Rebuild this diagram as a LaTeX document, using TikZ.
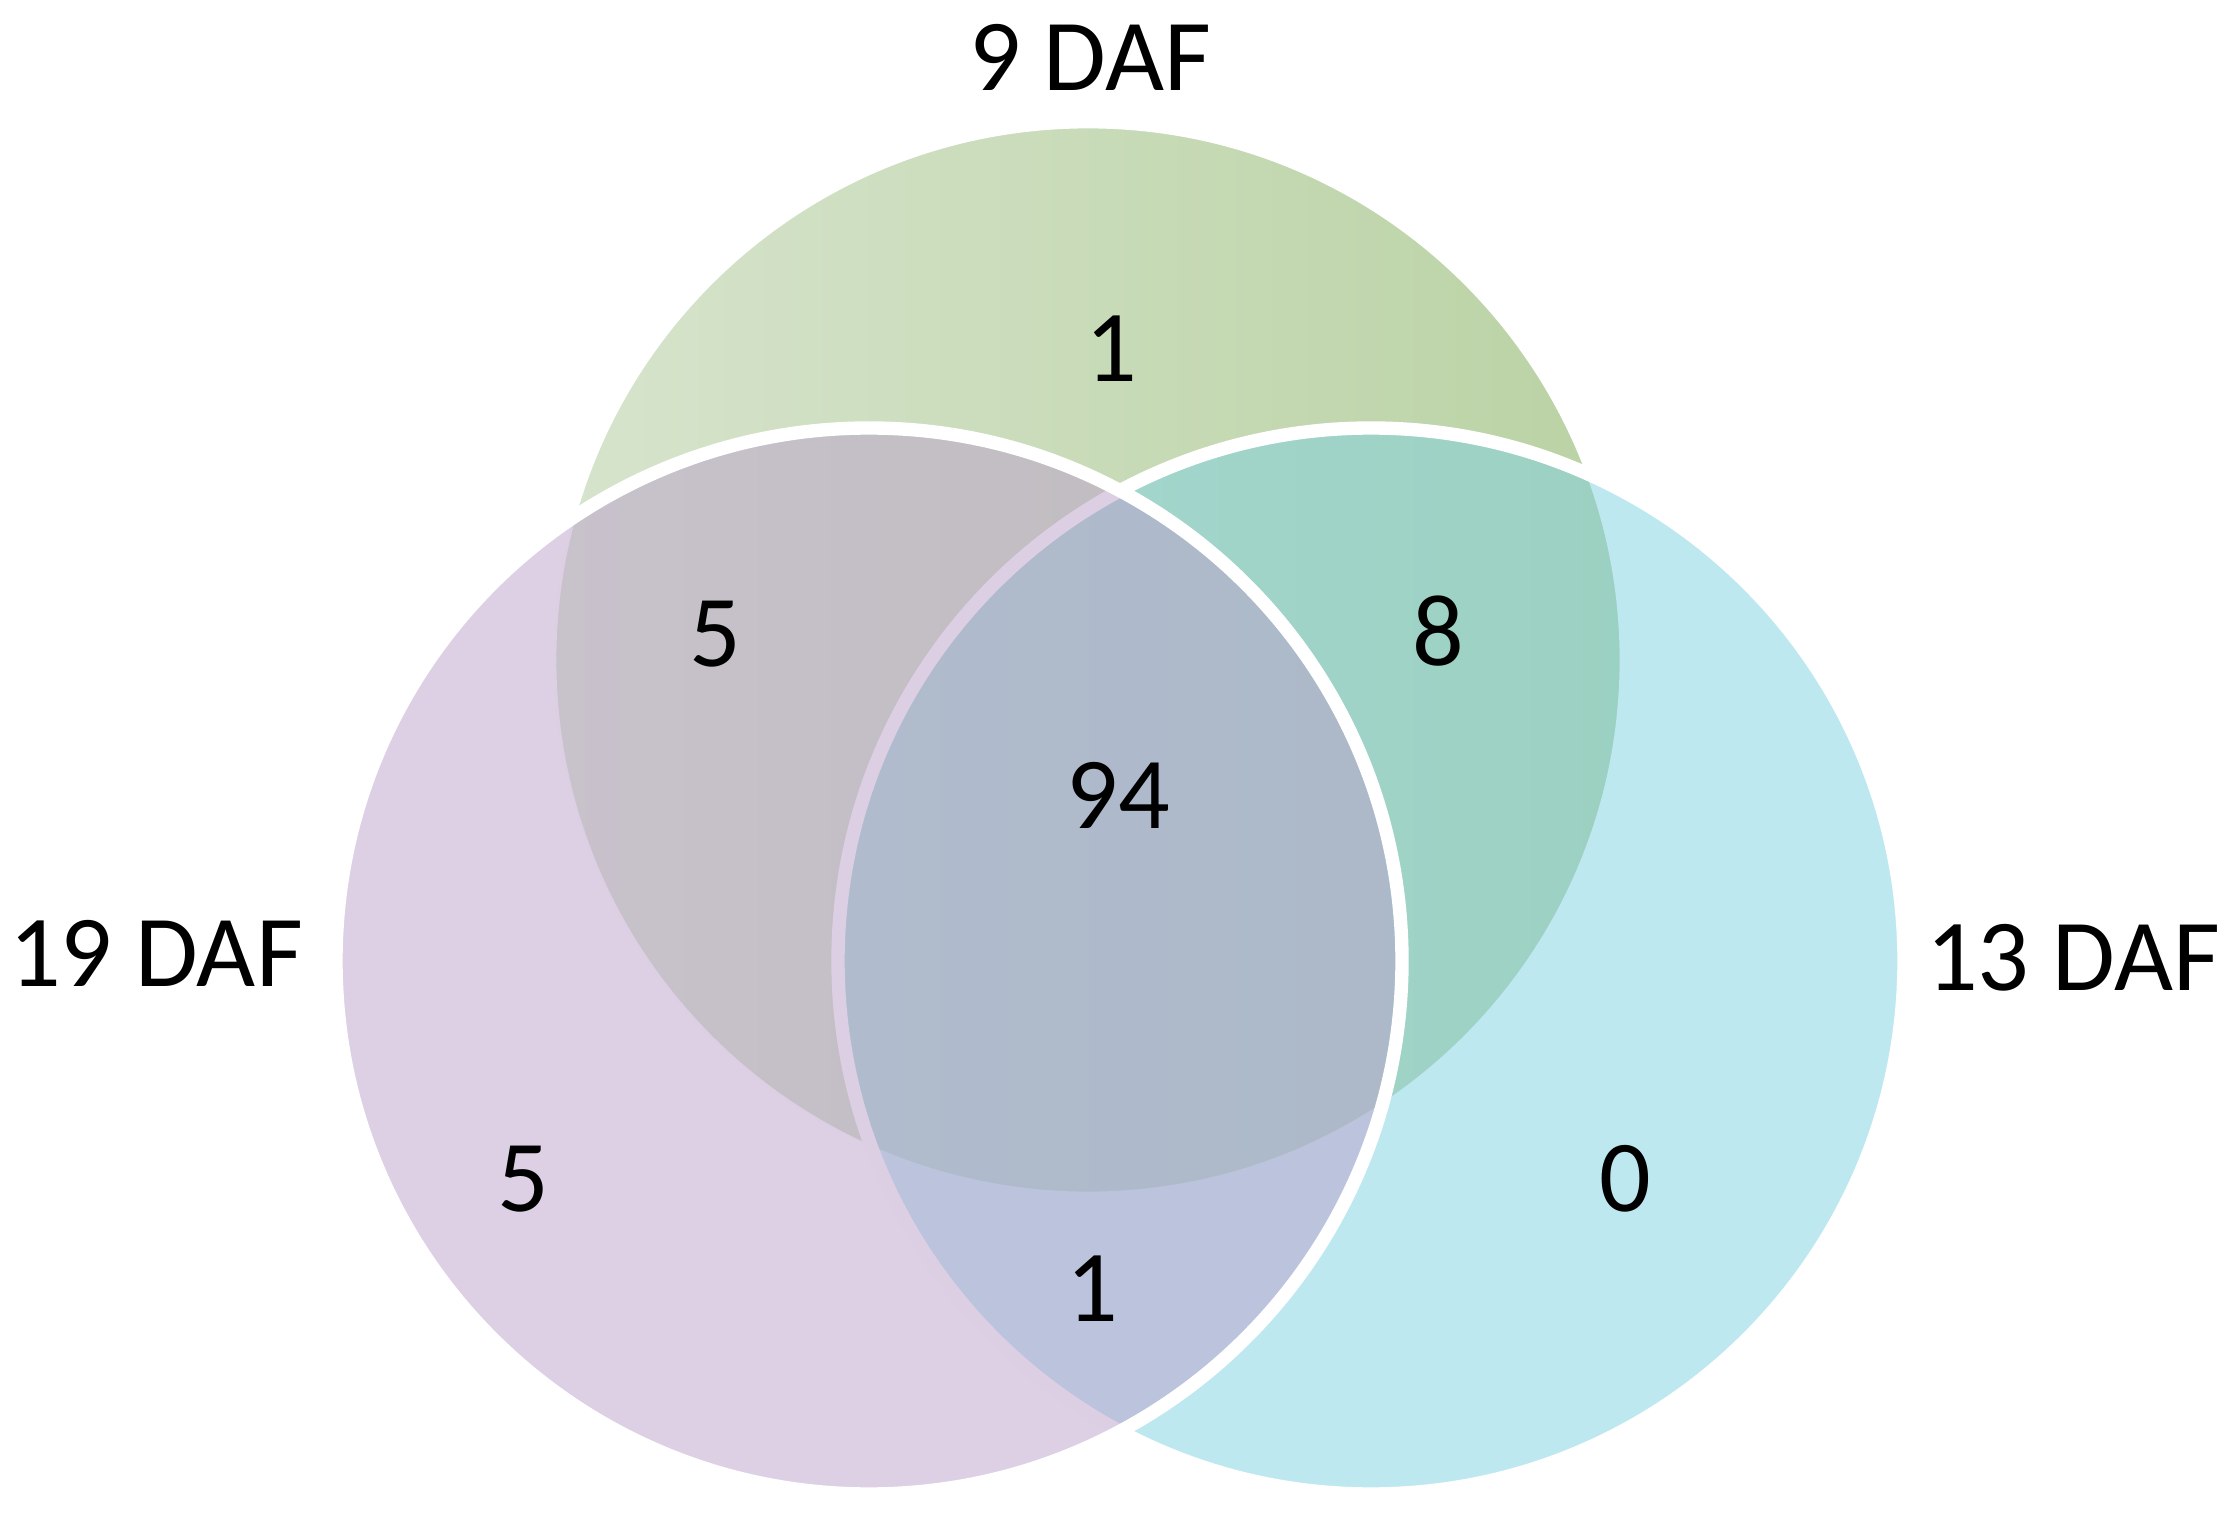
\documentclass[tikz,border=0pt]{standalone}
\usepackage{fontspec}
\setmainfont{Carlito}
\usepackage{xcolor}
\usepackage{tikz}
\definecolor{grnl}{HTML}{D7E4CD}
\definecolor{grnd}{HTML}{BAD2A4}
\definecolor{purc}{HTML}{BBA1CB}
\definecolor{cyac}{HTML}{7ED1E0}
\tikzset{
  rim/.style={draw=white,line width=3.8pt,fill opacity=0.5},
  cnt/.style={font=\fontsize{29}{32}\selectfont,inner sep=0pt},
  lbl/.style={font=\fontsize{29}{32}\selectfont,inner sep=0pt}
}

\begin{document}
\begin{tikzpicture}[x=0.01cm,y=-0.01cm]
\useasboundingbox (0,0) rectangle (2233,1519);
% the three sets
\shadedraw[left color=grnl,right color=grnd,draw=white,line width=0.8pt] (1088,660) circle[radius=533];
\draw[rim,fill=cyac] (1371,961) circle[radius=533];
\draw[rim,fill=purc] (869,961) circle[radius=533];
% set names
\node[lbl] (d9) at (1090,57) {9 DAF};
\node[lbl] (d19) at (156,953) {19 DAF};
\node[lbl] (d13) at (2073,958) {13 DAF};
% counts
\node[cnt] (n9) at (1111,349) {1};
\node[cnt] (n919) at (715,634) {5};
\node[cnt] (n913) at (1438,631) {8};
\node[cnt] (nall) at (1118,795) {94};
\node[cnt] (n19) at (523,1179) {5};
\node[cnt] (n13) at (1625,1179) {0};
\node[cnt] (n1913) at (1092,1289) {1};
\end{tikzpicture}
\end{document}
